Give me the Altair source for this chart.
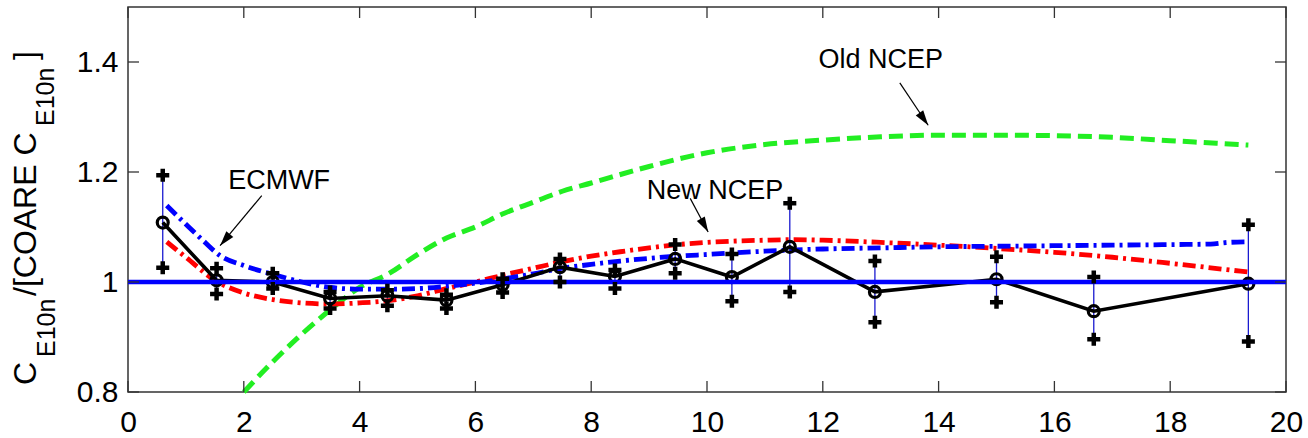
import altair as alt
import pandas as pd

# ---------------- data ----------------
bin_x = [0.6, 1.53, 2.5, 3.49, 4.48, 5.5, 6.47, 7.46, 8.41, 9.45, 10.43, 11.43, 12.9, 15.0, 16.68, 19.35]
ratio = [1.108, 1.003, 1.0, 0.97, 0.975, 0.967, 0.995, 1.027, 1.01, 1.042, 1.009, 1.064, 0.982, 1.005, 0.947, 0.997]
ratio_hi = [1.194, 1.025, 1.016, 0.982, 0.985, 0.977, 1.006, 1.042, 1.022, 1.068, 1.051, 1.143, 1.038, 1.046, 1.009, 1.104]
ratio_lo = [1.026, 0.978, 0.988, 0.952, 0.957, 0.952, 0.981, 1.0, 0.988, 1.016, 0.965, 0.982, 0.927, 0.963, 0.896, 0.892]

old_ncep_x = [2.0, 2.5, 3.0, 3.5, 4.0, 4.5, 5.0, 5.5, 6.0, 6.5, 7.0, 7.5, 8.0, 9.0, 10.0, 11.0,
              12.0, 13.0, 14.0, 15.0, 16.0, 17.0, 18.0, 19.35]
old_ncep_y = [0.80, 0.855, 0.905, 0.95, 0.99, 1.015, 1.05, 1.08, 1.10, 1.125, 1.145, 1.165, 1.18, 1.21,
              1.235, 1.25, 1.258, 1.264, 1.267, 1.267, 1.266, 1.263, 1.257, 1.249]

new_ncep_x = [0.67, 1.0, 1.5, 2.0, 2.5, 3.0, 3.5, 4.0, 4.5, 5.0, 5.5, 6.0, 6.5, 7.0, 7.5, 8.0, 8.5,
              9.0, 9.5, 10.0, 11.0, 11.5, 12.0, 13.0, 14.0, 15.0, 16.0, 17.0, 18.0, 19.35]
new_ncep_y = [1.073, 1.045, 1.003, 0.98, 0.968, 0.962, 0.96, 0.962, 0.966, 0.975, 0.988, 1.0, 1.013,
              1.025, 1.037, 1.047, 1.055, 1.062, 1.068, 1.072, 1.076, 1.077, 1.076, 1.072, 1.067,
              1.061, 1.054, 1.045, 1.034, 1.018]

ecmwf_x = [0.67, 1.0, 1.3, 1.59, 2.0, 2.5, 3.0, 3.5, 4.0, 4.5, 5.0, 5.5, 6.0, 6.5, 7.0, 7.5, 8.0,
           8.5, 9.0, 9.5, 10.0, 11.0, 12.0, 13.0, 14.0, 15.0, 16.0, 17.0, 18.0, 18.7, 19.0, 19.35]
ecmwf_y = [1.139, 1.105, 1.075, 1.048, 1.03, 1.014, 1.0, 0.99, 0.987, 0.987, 0.988, 0.992, 0.998,
           1.006, 1.015, 1.025, 1.032, 1.038, 1.043, 1.047, 1.05, 1.056, 1.06, 1.062, 1.064, 1.065,
           1.066, 1.067, 1.068, 1.069, 1.072, 1.073]

reference_level = [1.0]

x_ticks = [0, 2, 4, 6, 8, 10, 12, 14, 16, 18, 20]
y_ticks = [0.8, 1.0, 1.2, 1.4]

label_text = ["ECMWF", "New NCEP", "Old NCEP"]
label_x = [2.61, 10.14, 13.0]
label_y = [1.183, 1.165, 1.404]
arrow_x0 = [2.31, 9.71, 13.33]
arrow_y0 = [1.157, 1.152, 1.362]
arrow_x1 = [1.59, 10.02, 13.82]
arrow_y1 = [1.066, 1.091, 1.285]
arrow_angle = [220, 151, 145]

# ---------------- layout / style ----------------
W, H = 1158, 385
FONT = "Liberation Sans"
TICK_LEN = 11

xscale = alt.Scale(domain=[0, 20], nice=False, zero=False)
yscale = alt.Scale(domain=[0.8, 1.5], nice=False, zero=False)
xaxis = alt.Axis(values=x_ticks, format="d", labelFontSize=30, labelFont=FONT, labelColor="black",
                 labelPadding=15, ticks=False, tickSize=0, domain=False, grid=False, title=None,
                 labelFlush=False, labelOverlap=False)
yaxis = alt.Axis(values=y_ticks, format="~g", labelFontSize=30, labelFont=FONT, labelColor="black",
                 labelPadding=10, ticks=False, tickSize=0, domain=False, grid=False, title=None,
                 labelFlush=False, labelOverlap=False)


def X(f="x"):
    return alt.X(f, type="quantitative", scale=xscale, axis=xaxis)


def Y(f="y"):
    return alt.Y(f, type="quantitative", scale=yscale, axis=yaxis)


bins = pd.DataFrame({"x": bin_x, "y": ratio, "hi": ratio_hi, "lo": ratio_lo})
plus_df = pd.DataFrame({"x": bin_x + bin_x, "y": ratio_hi + ratio_lo})
old_df = pd.DataFrame({"x": old_ncep_x, "y": old_ncep_y})
new_df = pd.DataFrame({"x": new_ncep_x, "y": new_ncep_y})
ec_df = pd.DataFrame({"x": ecmwf_x, "y": ecmwf_y})
ref_df = pd.DataFrame({"y": reference_level})
xt_df = pd.DataFrame({"t": x_ticks})
yt_df = pd.DataFrame({"t": y_ticks})
ann = pd.DataFrame({"text": label_text, "x": label_x, "y": label_y,
                    "x0": arrow_x0, "y0": arrow_y0, "x1": arrow_x1, "y1": arrow_y1,
                    "ang": arrow_angle})

errbars = alt.Chart(bins).mark_rule(color="#1a1ad0", strokeWidth=1.3).encode(
    x=X("x"), y=Y("lo"), y2=alt.Y2("hi"))

old_line = alt.Chart(old_df).mark_line(color="#22ee22", strokeWidth=5, strokeDash=[14, 7],
                                       interpolate="monotone").encode(x=X(), y=Y())
new_line = alt.Chart(new_df).mark_line(color="#ff0000", strokeWidth=4.8, strokeDash=[13, 5, 3, 5],
                                       interpolate="monotone").encode(x=X(), y=Y())
ec_line = alt.Chart(ec_df).mark_line(color="#0000ff", strokeWidth=4.8, strokeDash=[13, 5, 3, 5],
                                     interpolate="monotone").encode(x=X(), y=Y())

black_line = alt.Chart(bins).mark_line(color="black", strokeWidth=3.6).encode(x=X(), y=Y())
circles = alt.Chart(bins).mark_point(shape="circle", filled=False, color="black", size=120,
                                     strokeWidth=3.2, opacity=1).encode(x=X(), y=Y())
ref_line = alt.Chart(ref_df).mark_rule(color="#0000ff", strokeWidth=4.5).encode(y=Y("y"))
pluses = alt.Chart(plus_df).mark_point(shape="M-1,0L1,0M0,-1L0,1", filled=False, color="black",
                                       size=170, strokeWidth=4.5, opacity=1).encode(x=X(), y=Y())

tick_style = dict(color="#333333", strokeWidth=1.3)
tick_bottom = alt.Chart(xt_df).mark_rule(**tick_style).encode(
    x=X("t"), y=alt.value(H), y2=alt.value(H - TICK_LEN))
tick_top = alt.Chart(xt_df).mark_rule(**tick_style).encode(
    x=X("t"), y=alt.value(0), y2=alt.value(TICK_LEN))
tick_left = alt.Chart(yt_df).mark_rule(**tick_style).encode(
    y=Y("t"), x=alt.value(0), x2=alt.value(TICK_LEN))
tick_right = alt.Chart(yt_df).mark_rule(**tick_style).encode(
    y=Y("t"), x=alt.value(W), x2=alt.value(W - TICK_LEN))

arrows = alt.Chart(ann).mark_rule(color="black", strokeWidth=1.2).encode(
    x=X("x0"), y=Y("y0"), x2=alt.X2("x1"), y2=alt.Y2("y1"))
heads = alt.Chart(ann).mark_point(shape="M0,0L-0.6,2L0.6,2Z", filled=True, color="black",
                                  size=230, opacity=1, strokeWidth=0).encode(
    x=X("x1"), y=Y("y1"), angle=alt.Angle("ang:Q", scale=None))
labels = alt.Chart(ann).mark_text(font=FONT, fontSize=27, color="black", align="center",
                                  baseline="middle").encode(x=X("x"), y=Y("y"), text="text:N")

# y-axis title built from pieces (with subscripts), rotated
title_pieces = [
    ("C", 32, 36, 385),
    ("E10n", 25, 55, 357),
    ("/[COARE C", 32, 36, 296),
    ("E10n", 25, 54, 126),
    ("]", 32, 36, 60),
]
title_layers = []
for txt, fs, px, py in title_pieces:
    title_layers.append(
        alt.Chart(ref_df).mark_text(font=FONT, fontSize=fs, color="black", angle=270,
                                    align="left", baseline="alphabetic").encode(
            x=alt.value(px - 128), y=alt.value(py - 7), text=alt.value(txt)))

chart = alt.layer(
    errbars, old_line, new_line, ec_line, black_line, circles, ref_line, pluses,
    tick_bottom, tick_top, tick_left, tick_right, arrows, heads, labels, *title_layers
).properties(
    width=W, height=H,
    autosize=alt.AutoSizeParams(type="none"),
    padding={"left": 128, "top": 7, "right": 22, "bottom": 46},
    background="white",
).configure_view(stroke="#333333", strokeWidth=1.5)

chart.save("out.html", embed_options={"renderer": "svg", "actions": False})
